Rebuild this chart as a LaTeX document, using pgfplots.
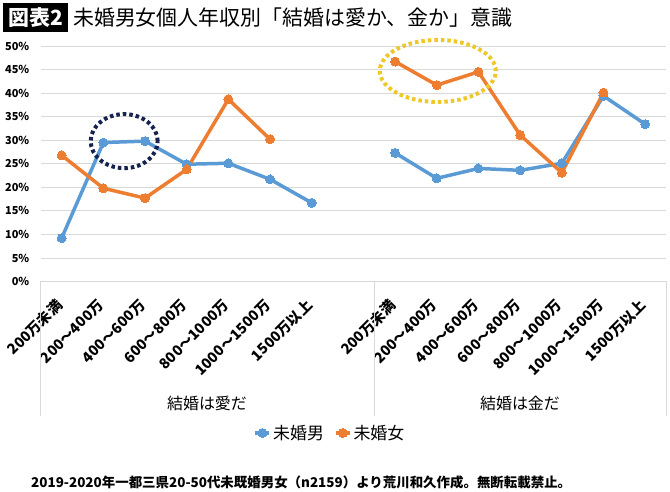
\documentclass[border=0pt]{standalone}
\usepackage{fontspec}
\usepackage{pgfplots}
\pgfplotsset{compat=1.18}
\setmainfont{Noto Sans CJK JP}

\definecolor{exblue}{HTML}{5B9BD5}
\definecolor{exorange}{HTML}{ED7D31}
\definecolor{gridgray}{HTML}{D9D9D9}
\definecolor{navydot}{RGB}{22,35,80}
\definecolor{golddot}{RGB}{238,200,40}

\newcommand{\fs}[1]{\fontsize{#1}{#1}\selectfont}

\begin{document}
\begin{tikzpicture}[x=1bp,y=1bp]
\path (0,0) rectangle (670,492);

% title
\node[fill=black, text=white, font=\bfseries\fs{21}, inner xsep=5bp,
      minimum height=29bp, anchor=west] at (3,474.5) {図表2};
\node[font=\fs{21}, inner sep=0pt, anchor=west] at (73,474.5)
  {未婚男女個人年収別「結婚は愛か、金か」意識};

\begin{axis}[
    at={(40.8bp,210.5bp)}, anchor=south west,
    scale only axis,
    width=625.2bp, height=235.5bp,
    xmin=-0.5, xmax=14.5,
    ymin=0, ymax=50,
    axis line style={draw=none},
    major tick length=0pt,
    ymajorgrids,
    grid style={gridgray, line width=0.8bp},
    ytick={0,5,...,50},
    yticklabel={\pgfmathprintnumber{\tick}\%},
    /pgf/number format/assume math mode=true,
    yticklabel style={font=\bfseries\fs{11}, xshift=-8bp},
    xtick={0,1,2,3,4,5,6,8,9,10,11,12,13,14},
    xticklabels={200万未満,200～400万,400～600万,600～800万,800～1000万,1000～1500万,1500万以上,
                 200万未満,200～400万,400～600万,600～800万,800～1000万,1000～1500万,1500万以上},
    xticklabel style={font=\bfseries\fs{14.5}, rotate=45, anchor=east, inner sep=0pt, xshift=-3bp},
    xticklabel shift=19bp,
    clip=false,
    legend style={at={(0.4626,-0.643)}, anchor=center, draw=none, fill=none,
                  font=\fs{17}, legend columns=2,
                  /tikz/every even column/.append style={column sep=8bp}},
    legend image code/.code={%
      \draw[mark repeat=2,mark phase=2] plot coordinates {(0bp,0bp) (7bp,0bp) (14bp,0bp)};},
    every axis plot/.append style={line width=3.5bp, mark=*, mark size=4.5bp},
]
% 未婚男
\addplot[exblue, mark options={fill=exblue, line width=0pt}] coordinates {
  (0,9.2) (1,29.5) (2,29.8) (3,24.9) (4,25.1) (5,21.7) (6,16.7)
};
\addlegendentry{未婚男}
\addplot[exblue, mark options={fill=exblue, line width=0pt}, forget plot] coordinates {
  (8,27.3) (9,21.9) (10,24.0) (11,23.6) (12,25.1) (13,39.4) (14,33.4)
};
% 未婚女
\addplot[exorange, mark options={fill=exorange, line width=0pt}] coordinates {
  (0,26.8) (1,19.8) (2,17.7) (3,23.8) (4,38.7) (5,30.2)
};
\addlegendentry{未婚女}
\addplot[exorange, mark options={fill=exorange, line width=0pt}, forget plot] coordinates {
  (8,46.7) (9,41.7) (10,44.5) (11,31.1) (12,23.1) (13,40.1)
};

% dotted highlight rings
\draw[navydot, line width=4bp, dash pattern=on 3.5bp off 3bp]
  (axis cs:1.5,29.8) ellipse [x radius=33.5bp, y radius=27bp];
\draw[golddot, line width=4bp, dash pattern=on 3.5bp off 3bp]
  (axis cs:9.025,44.7) ellipse [x radius=58bp, y radius=31bp];
\end{axis}

% category group separators and labels
\draw[gridgray, line width=0.8bp] (40.8,210.5) -- (40.8,76);
\draw[gridgray, line width=0.8bp] (374,210.5) -- (374,76);
\draw[gridgray, line width=0.8bp] (666,210.5) -- (666,76);
\node[font=\fs{16}] at (207,89) {結婚は愛だ};
\node[font=\fs{16}] at (520,89) {結婚は金だ};

% footnote
\node[font=\bfseries\fs{13.5}, inner sep=0pt, anchor=west] at (31,10)
  {2019-2020年一都三県20-50代未既婚男女（n2159）より荒川和久作成。無断転載禁止。};
\end{tikzpicture}
\end{document}
